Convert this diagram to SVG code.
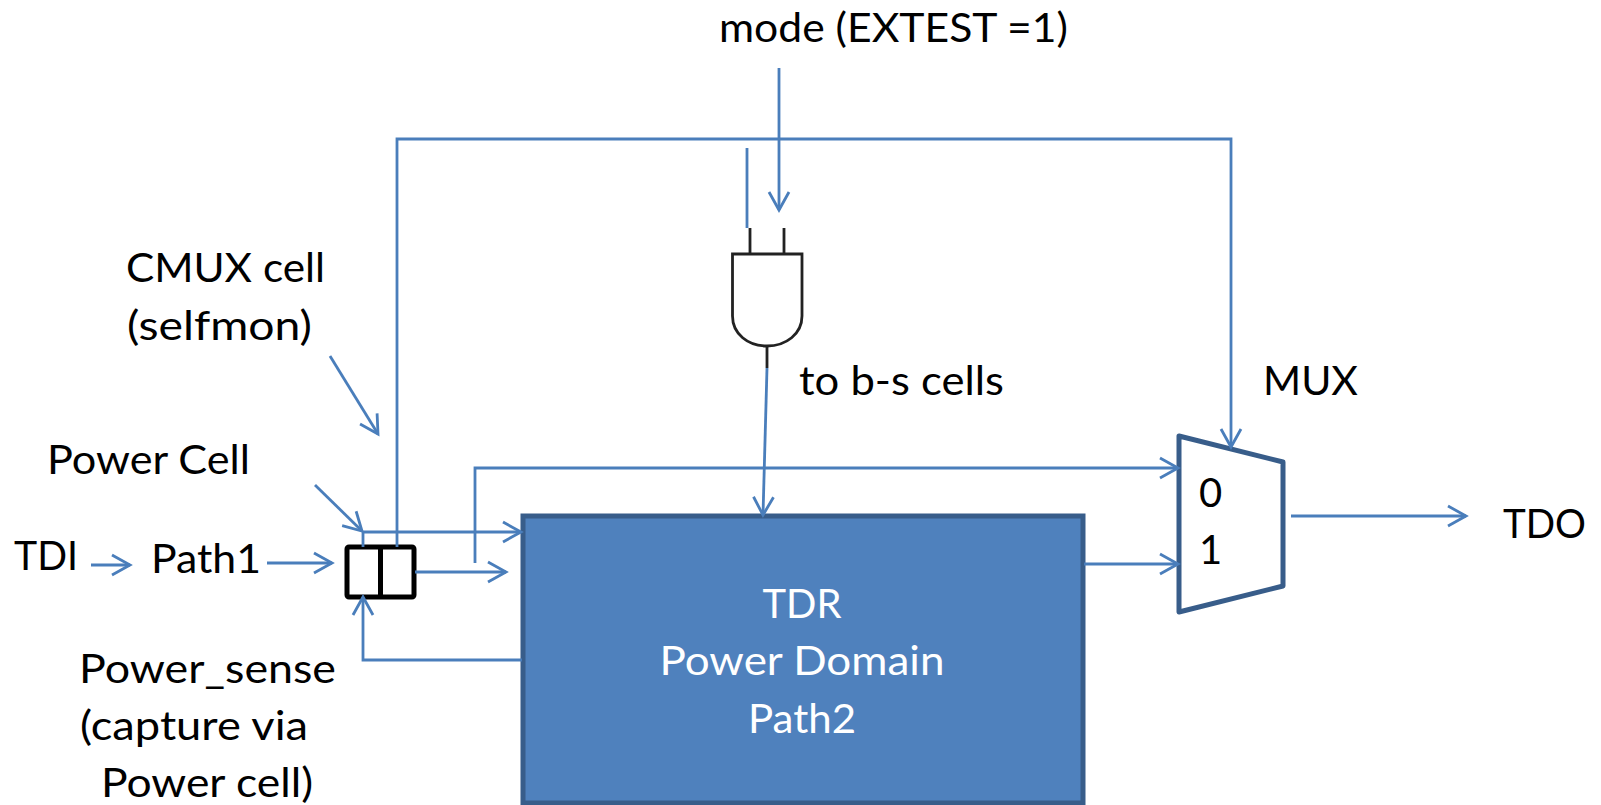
<svg xmlns="http://www.w3.org/2000/svg" width="1601" height="805" viewBox="0 0 1601 805">
<style>
text{font-family:"Lato","Open Sans","Liberation Sans",sans-serif;font-size:40px;fill:#000}
.w{fill:#fff;text-anchor:middle}
.c{fill:none;stroke:#4a7ebb;stroke-width:2.800}
.a{marker-end:url(#arr)}
.g{fill:none;stroke:#222;stroke-width:2.800}
</style>
<defs>
<marker id="arr" markerUnits="userSpaceOnUse" markerWidth="24" markerHeight="26" refX="20" refY="12" orient="auto" overflow="visible">
<path d="M2 2L20 12L2 22" fill="none" stroke="#4a7ebb" stroke-width="2.800"/>
</marker>
</defs>
<rect width="1601" height="805" fill="#fff"/>
<g id="tdr"><rect x="523" y="516" width="560" height="287" fill="#4f81bd" stroke="#385d8a" stroke-width="5"/>
<text class="w" x="802" y="618" textLength="79" lengthAdjust="spacingAndGlyphs">TDR</text><text class="w" x="802" y="675" textLength="285" lengthAdjust="spacingAndGlyphs">Power Domain</text><text class="w" x="802" y="733" textLength="108" lengthAdjust="spacingAndGlyphs">Path2</text></g>
<g id="mux"><path d="M1179 436L1283 462V586L1179 612Z" fill="#fff" stroke="#385d8a" stroke-width="5" stroke-linejoin="round"/>
<text x="1199" y="507">0</text><text x="1199" y="564">1</text></g>
<g id="mux-label"><text x="1263" y="395" textLength="95" lengthAdjust="spacingAndGlyphs">MUX</text></g>
<g id="and-gate"><path class="g" d="M750 228V254M784 228V254M767 346V368"/><path class="g" d="M732.500 254H802V316C802 334 786 346 767 346C748 346 732.500 334 732.500 316Z" fill="#fff"/></g>
<g id="cell"><rect x="347" y="547" width="67" height="50" rx="2" fill="#fff" stroke="#000" stroke-width="5"/><path d="M380.500 547V597" stroke="#000" stroke-width="5"/></g>
<g id="connectors">
<path class="c a" d="M779 68V210"/>
<path class="c" d="M747 148V228"/>
<path class="c a" d="M397 547V139H1231V447"/>
<path class="c a" d="M767 368L763 515"/>
<path class="c a" d="M363 547V532H521"/>
<path class="c a" d="M415 572H506"/>
<path class="c a" d="M475 563V468H1178"/>
<path class="c a" d="M1084 564H1178"/>
<path class="c a" d="M1291 516H1466"/>
<path class="c a" d="M522 660H363V597"/>
<path class="c a" d="M91 565H130"/>
<path class="c a" d="M267 563H332"/>
<path class="c a" d="M330 356L378 434"/>
<path class="c a" d="M315 485L362 531"/>
</g>
<g id="labels">
<text x="719" y="42" textLength="349" lengthAdjust="spacingAndGlyphs">mode (EXTEST =1)</text>
<text x="126" y="282" textLength="199" lengthAdjust="spacingAndGlyphs">CMUX cell</text>
<text x="127" y="340" textLength="185" lengthAdjust="spacingAndGlyphs">(selfmon)</text>
<text x="47" y="474" textLength="203" lengthAdjust="spacingAndGlyphs">Power Cell</text>
<text x="14" y="570" textLength="64" lengthAdjust="spacingAndGlyphs">TDI</text>
<text x="151" y="573" textLength="110" lengthAdjust="spacingAndGlyphs">Path1</text>
<text x="79" y="683" textLength="257" lengthAdjust="spacingAndGlyphs">Power_sense</text>
<text x="80" y="740" textLength="228" lengthAdjust="spacingAndGlyphs">(capture via</text>
<text x="101" y="797" textLength="212" lengthAdjust="spacingAndGlyphs">Power cell)</text>
<text x="799" y="395" textLength="205" lengthAdjust="spacingAndGlyphs">to b-s cells</text>
<text x="1503" y="538" textLength="83" lengthAdjust="spacingAndGlyphs">TDO</text>
</g>
</svg>
